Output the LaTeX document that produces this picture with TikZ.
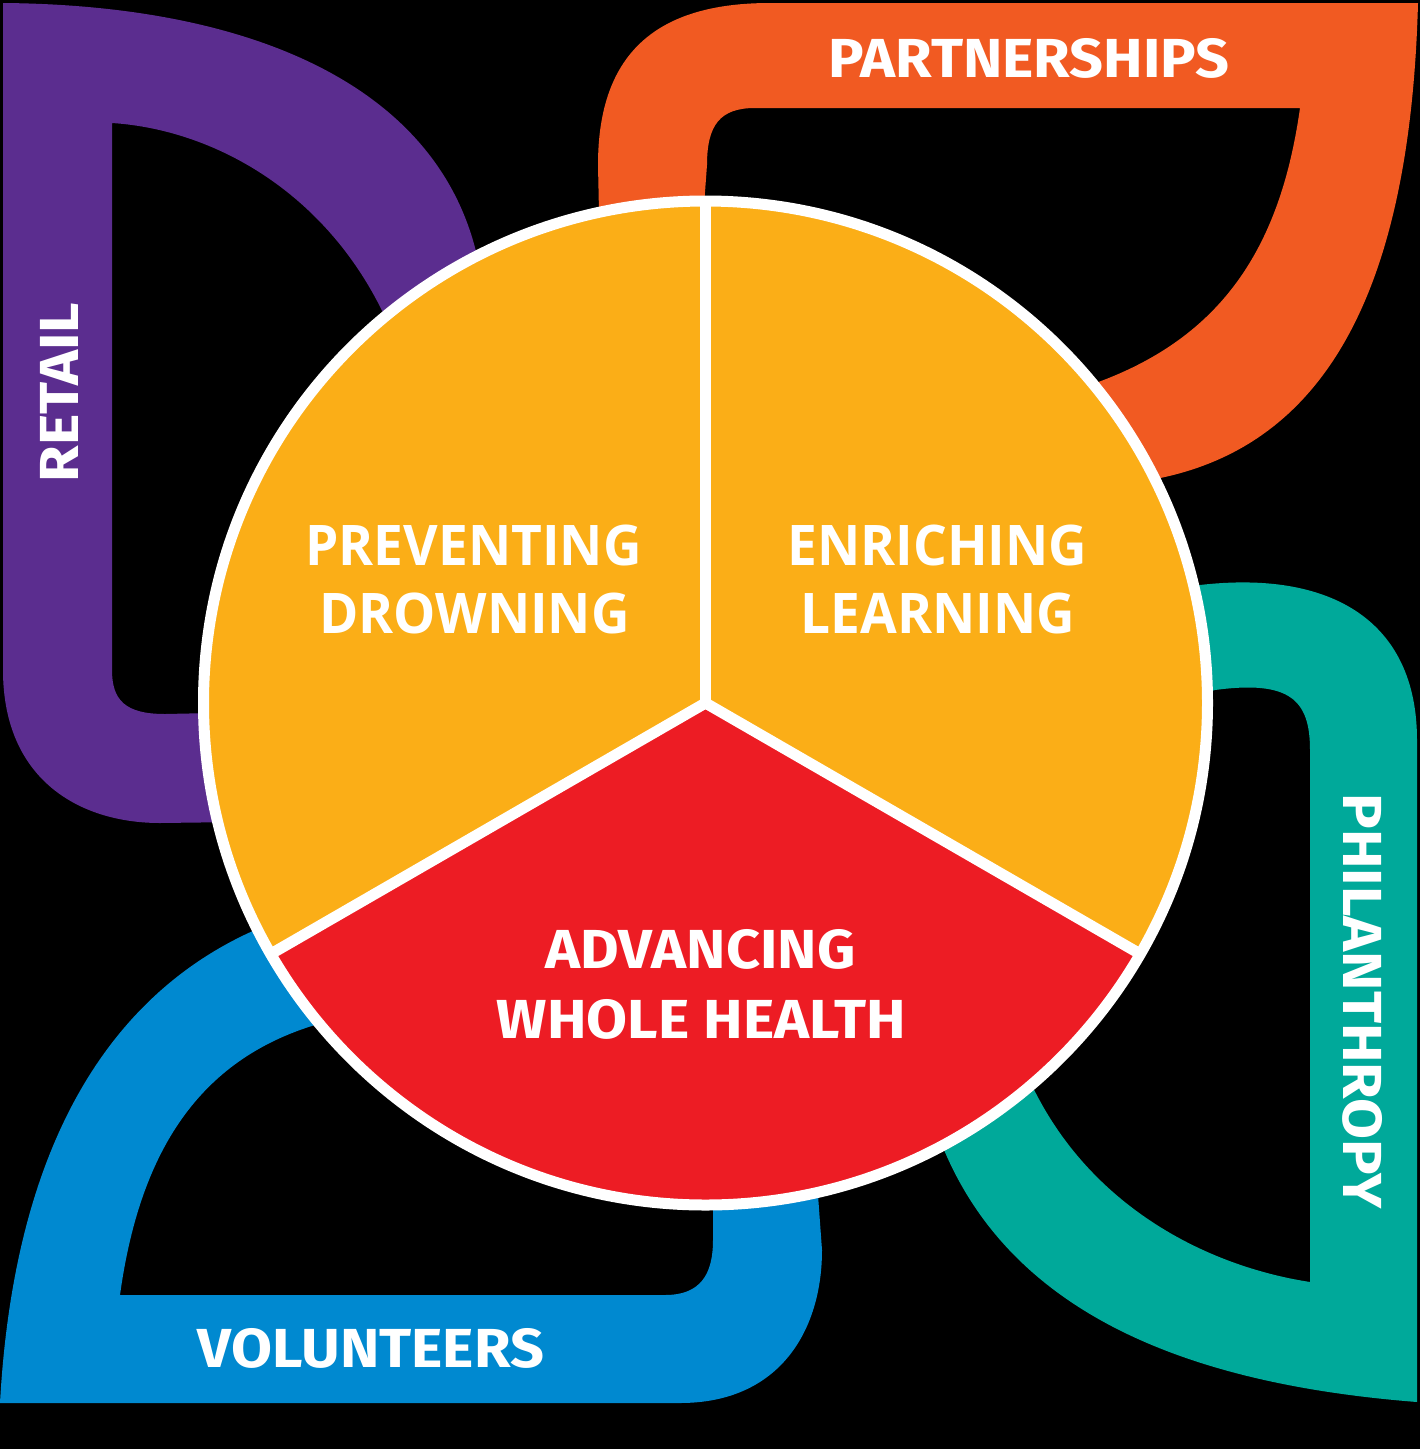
\documentclass[tikz,border=0pt]{standalone}
\usepackage{fontspec}
\usepackage{tikz}
\usetikzlibrary{positioning,calc}
\newfontfamily\ringfont{Fira Sans}[FakeStretch=1.08]
\newfontfamily\corefont{Open Sans}[FakeStretch=0.95]
\definecolor{retailc}{HTML}{5B2D8F}
\definecolor{partnerc}{HTML}{F15A22}
\definecolor{philanc}{HTML}{00A99A}
\definecolor{volunc}{HTML}{0089D0}
\definecolor{coreyel}{HTML}{FBAE17}
\definecolor{corered}{HTML}{ED1C24}
\tikzset{
  petal/.style={even odd rule},
  ringlbl/.style={text=white,inner sep=0pt,font=\ringfont\bfseries\fontsize{55}{60}\selectfont},
  corelbl/.style={text=white,inner sep=0pt,anchor=base,font=\corefont\bfseries\fontsize{56}{60}\selectfont},
  healthlbl/.style={text=white,inner sep=0pt,anchor=base,font=\ringfont\bfseries\fontsize{55}{60}\selectfont},
}
\begin{document}
\begin{tikzpicture}[x=1pt,y=-1pt]
\useasboundingbox (0,0) rectangle (1420,1449);
\fill[black] (0,0) rectangle (1420,1449);
% petals behind the circle
\fill[retailc,petal] (3,3) .. controls (250,5) and (440,85) .. (478,260) -- (520,420) -- (240,822)
  -- (160,823) .. controls (80,823) and (3,780) .. (3,670) -- cycle
  (112,123) .. controls (220,130) and (340,200) .. (395,340) -- (450,450) -- (260,712)
  -- (165,714) .. controls (125,714) and (112,700) .. (112,670) -- cycle;
\fill[partnerc,petal] (600,260) -- (598,165) .. controls (598,50) and (660,3) .. (770,3) -- (1418,3)
  .. controls (1410,300) and (1320,450) .. (1150,480) -- (1000,500) -- cycle
  (700,260) -- (707,165) .. controls (707,125) and (720,108) .. (755,108) -- (1300,108)
  .. controls (1280,250) and (1220,340) .. (1090,385) -- (1000,450) -- cycle;
\fill[philanc,petal] (1150,600) -- (1200,585) .. controls (1330,570) and (1417,620) .. (1417,740)
  -- (1417,1402) .. controls (1200,1385) and (1010,1320) .. (940,1140) -- (1000,1000) -- cycle
  (1180,700) -- (1215,690) .. controls (1290,680) and (1310,700) .. (1310,750) -- (1310,1282)
  .. controls (1200,1265) and (1080,1200) .. (1025,1070) -- (1000,950) -- cycle;
\fill[volunc,petal] (300,950) -- (255,930) .. controls (120,990) and (15,1130) .. (0,1403)
  -- (680,1403) .. controls (780,1403) and (822,1330) .. (822,1250) -- (818,1195) -- (760,1150) -- cycle
  (400,1000) -- (315,1025) .. controls (200,1060) and (140,1150) .. (120,1295)
  -- (665,1295) .. controls (700,1295) and (713,1275) .. (713,1240) -- (713,1200) -- (650,1150) -- cycle;
% the circle in three parts
\coordinate (hub) at (705.5,703);
\fill[coreyel] (hub) -- ++(270:502) arc[start angle=270,end angle=150,radius=502] -- cycle;
\fill[coreyel] (hub) -- ++(270:502) arc[start angle=270,end angle=390,radius=502] -- cycle;
\fill[corered] (hub) -- ++(30:502) arc[start angle=30,end angle=150,radius=502] -- cycle;
\draw[white,line width=11pt] (hub) circle (502);
\foreach \a in {270,150,30}
  \draw[white,line width=11pt] (hub) -- ++(\a:502);
% texts
\node[corelbl] (prevent) at (473.5,565) {PREVENTING};
\node[corelbl] (drown) at (474.5,633) {DROWNING};
\node[corelbl] (enrich) at (937.5,565) {ENRICHING};
\node[corelbl] (learn) at (938,633) {LEARNING};
\node[healthlbl] (advance) at (700.5,968) {ADVANCING};
\node[healthlbl] (whole) at (701.5,1038) {WHOLE HEALTH};
\node[ringlbl,anchor=base] (partners) at (1029,77) {PARTNERSHIPS};
\node[ringlbl,anchor=base] (volunteers) at (371,1367) {VOLUNTEERS};
\node[ringlbl,rotate=90] (retail) at (59,392.5) {RETAIL};
\node[ringlbl,rotate=-90] (philan) at (1362.5,1001) {PHILANTHROPY};
\end{tikzpicture}
\end{document}
